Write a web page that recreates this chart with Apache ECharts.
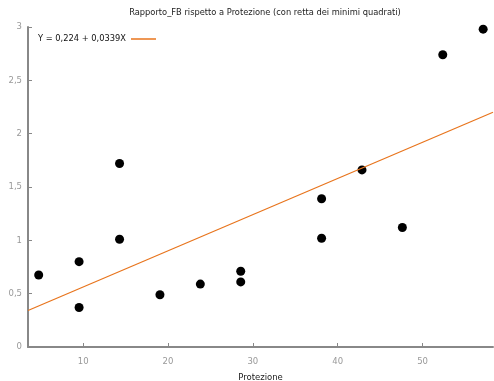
<!DOCTYPE html>
<html>
<head>
<meta charset="utf-8">
<script src="https://cdn.jsdelivr.net/npm/echarts@6/dist/echarts.min.js"></script>
<style>
  html, body { margin: 0; padding: 0; background: #fff; }
  #chart { width: 494px; height: 381px; }
</style>
</head>
<body>
<div id="chart"></div>
<script>
  // observed points
  const protezione = [4.76, 9.52, 9.52, 14.29, 14.29, 19.05, 23.81, 28.57, 28.57, 38.1, 38.1, 42.86, 47.62, 52.38, 57.14];
  const rapportoFB = [0.675, 0.80, 0.37, 1.72, 1.01, 0.49, 0.59, 0.71, 0.61, 1.39, 1.02, 1.66, 1.12, 2.74, 2.98];

  // least squares fit as printed in the legend
  const intercept = 0.224;
  const slope = 0.0339;
  const xRange = [3.5, 58.3];

  const xTicks = [10, 20, 30, 40, 50];

  const fitName = "Y = 0,224 + 0,0339X";
  const font = "DejaVu Sans";

  const points = protezione.map((x, i) => [x, rapportoFB[i]]);
  const fitLine = xRange.map((x) => [x, intercept + slope * x]);

  const chart = echarts.init(document.getElementById("chart"));
  chart.setOption({
    animation: false,
    title: {
      text: "Rapporto_FB rispetto a Protezione (con retta dei minimi quadrati)",
      left: 260,
      textAlign: "center",
      top: 4,
      textStyle: { fontFamily: font, fontSize: 8.3, fontWeight: "normal", color: "#222" },
    },
    legend: {
      left: 33,
      top: 30,
      align: "right",
      itemWidth: 25,
      itemHeight: 1.5,
      itemGap: 4,
      data: [{ name: fitName, icon: "rect" }],
      textStyle: { fontFamily: font, fontSize: 8.3, color: "#111" },
    },
    grid: { left: 28, right: 1, top: 27, bottom: 34, outerBoundsMode: "none" },
    xAxis: {
      type: "value",
      min: xRange[0],
      max: xRange[1],
      name: "Protezione",
      nameLocation: "middle",
      nameGap: 26,
      nameTextStyle: { fontFamily: font, fontSize: 8.5, color: "#222" },
      splitLine: { show: false },
      axisLine: { lineStyle: { color: "#888", width: 2 } },
      axisTick: { inside: true, length: 4, customValues: xTicks, lineStyle: { color: "#888" } },
      axisLabel: { customValues: xTicks, fontFamily: font, fontSize: 8.5, color: "#999", margin: 10 },
    },
    yAxis: {
      type: "value",
      min: 0,
      max: 3,
      interval: 0.5,
      splitLine: { show: false },
      axisLine: { show: true, lineStyle: { color: "#888", width: 2 } },
      axisTick: { show: true, inside: true, length: 4, lineStyle: { color: "#888" } },
      axisLabel: {
        fontFamily: font,
        fontSize: 8.5,
        color: "#999",
        margin: 6,
        formatter: (v) => String(v).replace(".", ","),
      },
    },
    series: [
      {
        name: "Rapporto_FB",
        type: "scatter",
        data: points,
        symbolSize: 9,
        itemStyle: { color: "#000", opacity: 1 },
      },
      {
        name: fitName,
        type: "line",
        data: fitLine,
        symbol: "none",
        lineStyle: { color: "#e8741c", width: 1.2 },
        itemStyle: { color: "#e8741c" },
      },
    ],
  });
</script>
</body>
</html>
